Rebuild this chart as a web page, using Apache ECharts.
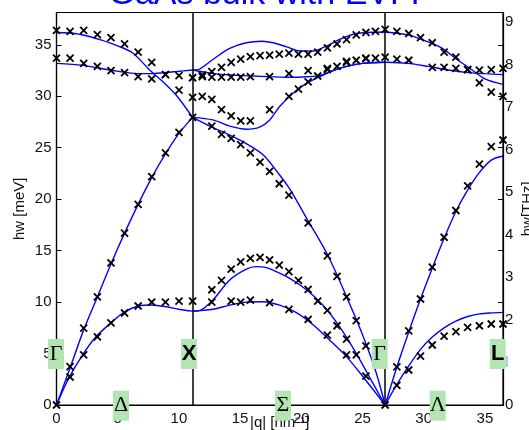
<!DOCTYPE html>
<html><head><meta charset="utf-8">
<script src="https://cdn.jsdelivr.net/npm/echarts@6/dist/echarts.min.js"></script>
<style>html,body{margin:0;padding:0;background:#fff}#c{width:529px;height:430px}</style>
</head><body><div id="c"></div>
<script>
// ---------- axis settings / tick labels ----------
const meVMax = 38.14;            // top of plot in meV
const meVperTHz = 4.1357;
const qMax = 36.48;              // L point
const qX = 11.12, qG2 = 26.85;   // X and second Gamma
const titleText = 'GaAs bulk with EVFF';
const pointLabels = ['Γ', 'X', 'Γ', 'L'];
const pathLabels = ['Δ', 'Σ', 'Λ'];

// ---------- measured (crosses): q positions ----------
const qDelta  = [0, 1.11, 2.22, 3.34, 4.45, 5.56, 6.67, 7.78, 8.9, 10.01, 11.12];
const qSigma  = [11.12, 11.91, 12.69, 13.48, 14.27, 15.05, 15.84, 16.63, 17.41, 18.2, 18.99, 19.77, 20.56, 21.34, 22.13, 22.92, 23.7, 24.49, 25.28, 26.06, 26.85];
const qLambda = [26.85, 27.81, 28.78, 29.74, 30.7, 31.67, 32.63, 33.59, 34.55, 35.52, 36.48];

// measured energies (meV), Gamma-X (Delta)
const expTA_D = [null, 2.72, 4.86, 6.61, 7.97, 8.94, 9.62, 10.0, 10.0, 10.1, 10.1];
const expLA_D = [0, 3.72, 7.48, 10.5, 13.8, 16.7, 19.5, 22.2, 24.5, 26.5, 27.95];
const expTO_D = [33.7, 33.7, 33.2, 32.9, 32.5, 32.3, 31.9, 31.7, 32.1, 32.0, 31.8];
const expLO_D = [36.4, 36.3, 36.4, 36.0, 35.7, 35.1, 34.3, 33.3, 32.1, 30.6, 29.9];
// X-Gamma (Sigma)
const expTA1_S = [null, null, 11.2, 12.1, 13.2, 13.9, 14.25, 14.35, 14.1, 13.6, 12.95, 12.1, 11.24, 10.1, 9.2, 7.7, 6.4, 4.86, null, null, 0];
const expTA2_S = [null, null, 10.0, null, 10.1, 10.0, 10.2, null, 9.94, null, 9.3, null, 8.33, null, 6.8, null, 4.86, null, 2.8, null, null];
const expLA_S  = [null, null, 27.1, 26.3, 25.9, 25.3, 24.5, 23.6, 22.7, 21.5, 20.4, null, 17.7, null, 14.5, 12.5, 10.5, 8.2, 5.75, null, null];
const expO1_S  = [null, 32.07, 32.4, 32.8, 33.3, 33.6, 33.85, 33.95, 34.0, 34.1, 34.2, 34.1, 34.1, 34.3, 34.7, 35.1, 35.5, 35.96, 36.2, 36.3, 36.5];
const expO2_S  = [null, 31.9, 31.85, 31.85, 31.85, 31.85, 31.9, null, 31.9, null, 32.2, null, 32.5, null, 32.6, null, 33.4, null, 33.65, null, null];
const expO3_S  = [null, 30.0, 29.7, 28.7, 28.1, 27.6, 27.6, null, 28.7, null, 30.0, 30.7, 31.4, 31.97, 32.7, 32.9, 33.3, 33.5, 33.7, 33.7, 33.8];
// Gamma-L (Lambda)
const expLA_L = [null, 3.7, 7.2, 10.3, 13.4, 16.3, 18.9, 21.3, 23.4, 25.1, 25.75];
const expTA_L = [null, 1.9, 3.4, 4.76, 5.83, 6.7, 7.13, 7.55, 7.7, 7.87, 7.87];
const expO1_L = [null, 36.3, 36.1, 35.7, 35.2, 34.3, 33.8, 32.6, 31.3, 30.4, 30.0];
const expO2_L = [null, 33.6, 33.5, null, 32.8, 32.8, 32.7, 32.6, 32.55, 32.6, 32.7];

// ---------- model (EVFF) curves ----------
const qTA_D = [0, 1.0, 2.15, 3.24, 4.42, 5.5, 6.6, 7.74, 8.97, 10.06, 11.12];
const eTA_D = [0, 2.6, 4.9, 6.65, 7.95, 9.0, 9.6, 9.72, 9.55, 9.28, 9.12];
const qLA_D = [0, 1.11, 2.22, 3.34, 4.45, 5.56, 6.67, 7.78, 8.9, 10.01, 11.12];
const eLA_D = [0, 3.6, 7.3, 10.5, 13.7, 16.7, 19.5, 22.1, 24.4, 26.4, 27.95];
const qTO_D = [0, 2.15, 4.39, 6.57, 7.77, 8.77, 9.84, 11.12];
const eTO_D = [33.2, 33.0, 32.55, 32.2, 32.2, 32.3, 32.4, 32.55];
const qLO_D = [0, 1.0, 2.0, 3.55, 5.0, 6.23, 7.74, 8.8, 9.79, 11.12];
const eLO_D = [36.2, 36.15, 36.0, 35.5, 34.9, 34.2, 32.4, 31.3, 30.1, 27.95];

const qHump_S = [11.12, 11.7, 12.8, 14.15, 15.5, 16.8, 17.7, 18.8, 19.9, 21.0, 22.0, 23.1, 24.2, 25.3, 26.85];
const eHump_S = [32.55, 32.65, 33.6, 34.65, 35.2, 35.35, 35.2, 34.8, 34.4, 34.4, 34.85, 35.5, 36.0, 36.2, 36.25];
const qFlat_S = [11.12, 12.8, 14.5, 16.0, 17.5, 19.0, 20.5, 21.5, 22.6, 23.7, 25.0, 26.85];
const eFlat_S = [32.55, 32.2, 32.05, 31.97, 31.9, 31.85, 31.9, 32.0, 32.5, 32.9, 33.2, 33.3];
const qDip_S  = [11.12, 12.78, 14.15, 15.51, 16.6, 17.42, 18.23, 19.32, 20.42, 21.5, 22.6, 23.7, 25.0, 26.85];
const eDip_S  = [27.95, 27.7, 27.1, 26.8, 27.0, 27.7, 29.0, 30.3, 31.25, 31.9, 32.5, 32.9, 33.2, 33.3];
const qLA_S   = [11.12, 12.7, 14.2, 15.5, 16.9, 18.2, 19.0, 19.6, 20.5, 21.3, 22.1, 22.9, 23.7, 24.5, 25.3, 26.1, 26.85];
const eLA_S   = [27.95, 27.0, 26.2, 25.4, 24.3, 22.4, 21.1, 19.9, 18.0, 16.4, 14.7, 12.7, 10.5, 8.3, 5.9, 3.2, 0];
const qTA1_S  = [11.12, 11.69, 12.78, 14.15, 15.51, 16.3, 17.0, 17.69, 19.05, 20.42, 21.77, 23.14, 24.5, 25.86, 26.85];
const eTA1_S  = [9.12, 9.17, 10.2, 12.15, 13.2, 13.45, 13.4, 13.1, 12.3, 11.2, 9.7, 7.6, 5.0, 2.1, 0];
const qTA2_S  = [11.12, 11.69, 12.78, 14.15, 15.51, 16.87, 18.23, 19.6, 20.96, 22.32, 23.69, 25.04, 26.85];
const eTA2_S  = [9.12, 9.17, 9.3, 9.7, 10.0, 10.04, 9.7, 8.97, 7.8, 6.3, 4.7, 2.75, 0];

const qAc_L = [26.85, 27.81, 28.78, 29.74, 30.7, 31.67, 32.63, 33.6, 34.56, 35.52, 36.48];
const eLA_L = [0, 3.7, 7.1, 10.3, 13.3, 16.2, 18.8, 20.9, 22.6, 23.8, 24.2];
const eTA_L = [0, 2.0, 3.8, 5.4, 6.6, 7.5, 8.15, 8.6, 8.85, 8.95, 9.0];
const qLO_L = [26.85, 28.72, 30.09, 31.46, 32.81, 33.9, 35.0, 36.48];
const eLO_L = [36.25, 35.96, 35.4, 34.7, 33.5, 32.6, 31.7, 31.15];
const qTO_L = [26.85, 28.72, 30.36, 32.0, 33.63, 35.0, 36.48];
const eTO_L = [33.3, 33.2, 32.9, 32.55, 32.3, 32.2, 32.1];

// ---------- build ----------
function zip(q, e) { const out = []; for (let i = 0; i < q.length; i++) if (e[i] !== null) out.push([q[i], e[i]]); return out; }
const curves = [
  zip(qTA_D, eTA_D), zip(qLA_D, eLA_D), zip(qTO_D, eTO_D), zip(qLO_D, eLO_D),
  zip(qHump_S, eHump_S), zip(qFlat_S, eFlat_S), zip(qDip_S, eDip_S), zip(qLA_S, eLA_S),
  zip(qTA1_S, eTA1_S), zip(qTA2_S, eTA2_S),
  zip(qAc_L, eLA_L), zip(qAc_L, eTA_L), zip(qLO_L, eLO_L), zip(qTO_L, eTO_L)
];
const crosses = [].concat(
  zip(qDelta, expTA_D), zip(qDelta, expLA_D), zip(qDelta, expTO_D), zip(qDelta, expLO_D),
  zip(qSigma, expTA1_S), zip(qSigma, expTA2_S), zip(qSigma, expLA_S),
  zip(qSigma, expO1_S), zip(qSigma, expO2_S), zip(qSigma, expO3_S),
  zip(qLambda, expLA_L), zip(qLambda, expTA_L), zip(qLambda, expO1_L), zip(qLambda, expO2_L)
);

const FONT = '"Liberation Sans", Arial, sans-serif';
const SERIF = '"Liberation Serif", "Times New Roman", serif';
const chart = echarts.init(document.getElementById('c'), null, { renderer: 'canvas' });

const series = curves.map((d, i) => ({
  type: 'line', data: d, showSymbol: false, smooth: 0.3, silent: true,
  lineStyle: { color: '#0000ff', width: 1.4 }, z: 3,
  markLine: i === 0 ? {
    silent: true, symbol: 'none', label: { show: false },
    lineStyle: { color: '#000', width: 1.5, type: 'solid' },
    data: [{ xAxis: qX }, { xAxis: qG2 }]
  } : undefined
}));
series.push({
  type: 'custom', data: crosses, z: 5, silent: true,
  encode: { x: 0, y: 1 },
  renderItem: function (params, api) {
    const p = api.coord([api.value(0), api.value(1)]);
    const s = 3.5;
    const st = { stroke: '#000', lineWidth: 1.8 };
    return { type: 'group', children: [
      { type: 'line', shape: { x1: p[0] - s, y1: p[1] - s, x2: p[0] + s, y2: p[1] + s }, style: st },
      { type: 'line', shape: { x1: p[0] - s, y1: p[1] + s, x2: p[0] + s, y2: p[1] - s }, style: st }
    ]};
  }
});

function box(cx, cy, txt, font, bold) {
  return { type: 'group', z: 100, children: [
    { type: 'rect', shape: { x: cx - 8, y: cy - 15, width: 16, height: 30 }, style: { fill: '#b3e5b3' }, z: 100 },
    { type: 'text', x: cx, y: cy, z: 101, style: { text: txt, fontFamily: font, fontSize: 22, fontWeight: bold ? 'bold' : 'normal', fill: '#000', align: 'center', verticalAlign: 'middle' } }
  ]};
}

chart.setOption({
  animation: false,
  backgroundColor: '#fff',
  grid: { left: 56.5, right: 26, top: 12.5, bottom: 25, show: true, borderColor: '#000', borderWidth: 1.2, backgroundColor: 'transparent', containLabel: false, outerBoundsMode: 'none' },
  xAxis: {
    type: 'value', min: 0, max: qMax, interval: 5,
    axisLine: { lineStyle: { color: '#000', width: 1.2 } },
    axisTick: { show: false }, splitLine: { show: false },
    axisLabel: { color: '#111', fontSize: 15, fontFamily: FONT, margin: 6, showMaxLabel: false },
    name: '|q| [nm⁻¹]', nameLocation: 'middle', nameGap: 10, nameMoveOverlap: false,
    nameTextStyle: { color: '#111', fontSize: 15, fontFamily: FONT, verticalAlign: 'top' }
  },
  yAxis: [
    {
      type: 'value', min: 0, max: meVMax, interval: 5, position: 'left',
      axisLine: { show: true, lineStyle: { color: '#000', width: 1.2 } },
      axisTick: { show: true, inside: true, length: 5, lineStyle: { color: '#000' } },
      splitLine: { show: false },
      axisLabel: { color: '#111', fontSize: 15, fontFamily: FONT, margin: 5, showMaxLabel: false },
      name: 'hw [meV]', nameLocation: 'middle', nameGap: 29, nameRotate: 90, nameMoveOverlap: false,
      nameTextStyle: { color: '#111', fontSize: 15, fontFamily: FONT }
    },
    {
      type: 'value', min: 0, max: meVMax / meVperTHz, interval: 1, position: 'right',
      axisLine: { show: true, lineStyle: { color: '#000', width: 1.2 } },
      axisTick: { show: false }, splitLine: { show: false },
      axisLabel: { color: '#111', fontSize: 15, fontFamily: FONT, margin: 2, showMaxLabel: false },
      name: 'hw[THz]', nameLocation: 'middle', nameGap: 17, nameRotate: 90, nameMoveOverlap: false,
      nameTextStyle: { color: '#111', fontSize: 15, fontFamily: FONT }
    },
    {
      type: 'value', min: 0, max: meVMax, interval: 5, position: 'right',
      axisLine: { show: false }, splitLine: { show: false }, axisLabel: { show: false },
      axisTick: { show: true, inside: true, length: 5, lineStyle: { color: '#000' } }
    }
  ],
  graphic: [
    { type: 'text', x: 270, y: -5, z: 100, style: { text: titleText, fontFamily: FONT, fontSize: 34, fill: '#0000ff', align: 'center', verticalAlign: 'middle' } },
    { type: 'rect', z: 99, shape: { x: 505.5, y: 352, width: 9, height: 18 }, style: { fill: '#fff' } },
    { type: 'rect', z: 99, shape: { x: 505.5, y: 356, width: 2.5, height: 11 }, style: { fill: '#a9c9f2' } },
    box(56, 354, pointLabels[0], SERIF, false),
    box(189, 354, pointLabels[1], FONT, true),
    box(379.7, 354, pointLabels[2], SERIF, false),
    box(497.7, 354, pointLabels[3], FONT, true),
    box(121, 405.7, pathLabels[0], SERIF, false),
    box(283, 405.7, pathLabels[1], SERIF, false),
    box(437.7, 405.7, pathLabels[2], SERIF, false)
  ],
  series: series
});
</script>
</body></html>
